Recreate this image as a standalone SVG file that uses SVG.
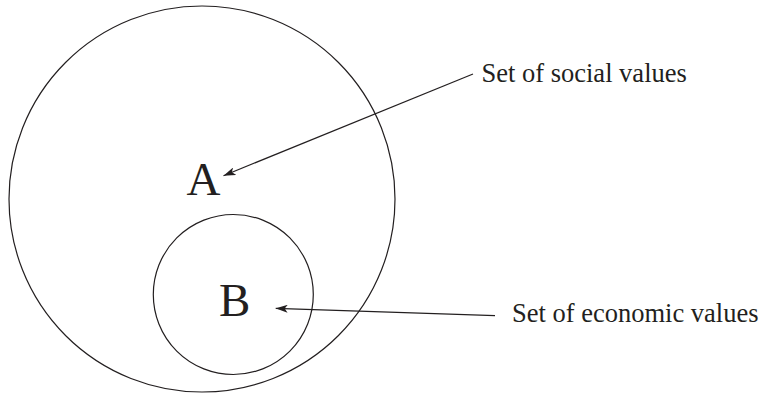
<svg xmlns="http://www.w3.org/2000/svg" width="763" height="393" viewBox="0 0 763 393">
<style>
.c{fill:none;stroke:#231f20;stroke-width:1.2}
.ln{fill:none;stroke:#231f20;stroke-width:1.2}
.big{font-family:"Liberation Serif","Times New Roman",serif;font-size:47px;fill:#231f20}
.lbl{font-family:"Liberation Serif","Times New Roman",serif;font-size:26.5px;fill:#231f20}
</style>
<defs>
<marker id="ah" viewBox="0 0 12 8" refX="12" refY="4" markerWidth="12" markerHeight="8" markerUnits="userSpaceOnUse" orient="auto">
<path d="M0,0 L12,4 L0,8 L3,4 Z" fill="#231f20"/>
</marker>
</defs>
<g id="setA">
<circle class="c" cx="202" cy="199" r="193"/>
<text class="big" x="186.5" y="195">A</text>
</g>
<g id="setB">
<circle class="c" cx="233.3" cy="294.5" r="80"/>
<text class="big" x="219" y="316">B</text>
</g>
<g id="labelSocial">
<text class="lbl" x="481.5" y="82.3">Set of social values</text>
</g>
<g id="labelEconomic">
<text class="lbl" x="512" y="322.3">Set of economic values</text>
</g>
<g id="connectors">
<line class="ln" x1="473" y1="74" x2="223.5" y2="175.7" marker-end="url(#ah)"/>
<line class="ln" x1="495" y1="315.7" x2="275.7" y2="308.3" marker-end="url(#ah)"/>
</g>
</svg>
